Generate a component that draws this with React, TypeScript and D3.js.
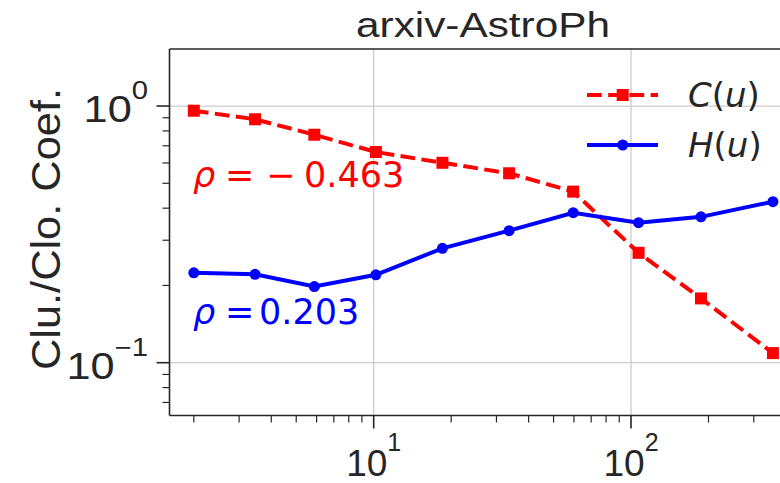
import React from 'react';
import * as d3 from 'd3';

const W = 780;
const H = 483;

// data
const uValues = [2.0, 3.46, 5.88, 10.2, 18.5, 33.6, 59.6, 107, 187, 356];
const cValues = [0.959, 0.888, 0.773, 0.662, 0.601, 0.547, 0.464, 0.268, 0.178, 0.109];
const hValues = [0.224, 0.221, 0.198, 0.220, 0.279, 0.327, 0.384, 0.351, 0.370, 0.424];
const xMajorTicks = [10, 100];
const xTickExponents = ['1', '2'];
const yMajorTicks = [0.1, 1];
const yTickExponents = ['\u22121', '0'];
const seriesNames = ['C', 'H'];
const rhoValues = ['\u22120.463', '0.203'];
const titleText = 'arxiv-AstroPh';
const yLabelText = 'Clu./Clo. Coef.';

const SANS = 'Liberation Sans, Arial, sans-serif';
const MATH = 'DejaVu Sans, sans-serif';
const INK = '#262626';
const GRID = '#cccccc';
const RED = '#ff0000';
const BLUE = '#0000ff';

export default function App() {
  const left = 169.5, right = 797, top = 49, bottom = 415.5;
  const x = d3.scaleLog().domain([1.609, 441.6]).range([left, right]);
  const y = d3.scaleLog().domain([0.06227, 1.668]).range([bottom, top]);

  const isMajor = (t: number) => Math.abs(Math.log10(t) - Math.round(Math.log10(t))) < 1e-6;
  const xMinor = x.ticks().filter((t) => !isMajor(t));
  const yMinor = y.ticks().filter((t) => !isMajor(t));

  const cPts = uValues.map((u, i) => [x(u), y(cValues[i])] as [number, number]);
  const hPts = uValues.map((u, i) => [x(u), y(hValues[i])] as [number, number]);
  const line = d3.line();

  const sq = 12;
  const dash = '14.8 6.4';

  return (
    <svg width={W} height={H} style={{ position: 'fixed', left: 0, top: 0, background: '#fff' }}
      fontFamily={SANS}>
      <defs>
        <clipPath id="plot">
          <rect x={left} y={top} width={right - left} height={bottom - top} />
        </clipPath>
      </defs>
      <rect x={0} y={0} width={W} height={H} fill="#fff" />
      {/* grid */}
      {xMajorTicks.map((t) => (
        <line key={'gx' + t} x1={x(t)} x2={x(t)} y1={top} y2={bottom} stroke={GRID} strokeWidth={1.3} />
      ))}
      {yMajorTicks.map((t) => (
        <line key={'gy' + t} x1={left} x2={right} y1={y(t)} y2={y(t)} stroke={GRID} strokeWidth={1.3} />
      ))}
      {/* spines */}
      <line x1={left} x2={left} y1={top} y2={bottom} stroke={INK} strokeWidth={1.6} />
      <line x1={left} x2={right} y1={bottom} y2={bottom} stroke={INK} strokeWidth={1.6} />
      <line x1={left} x2={right} y1={top} y2={top} stroke={INK} strokeWidth={1.6} />
      <line x1={right} x2={right} y1={top} y2={bottom} stroke={INK} strokeWidth={1.6} />
      {/* x ticks */}
      {xMajorTicks.map((t) => (
        <line key={'xt' + t} x1={x(t)} x2={x(t)} y1={bottom} y2={bottom + 13} stroke={INK} strokeWidth={1.6} />
      ))}
      {xMinor.map((t) => (
        <line key={'xm' + t} x1={x(t)} x2={x(t)} y1={bottom} y2={bottom + 7} stroke={INK} strokeWidth={1.2} />
      ))}
      {xMajorTicks.map((t, i) => (
        <text key={'xl' + t} x={x(t)} y={476} textAnchor="middle" fill={INK} fontSize={37}>
          <tspan>10</tspan>
          <tspan dy={-25} fontSize={25}>{xTickExponents[i]}</tspan>
        </text>
      ))}
      {/* y ticks */}
      {yMajorTicks.map((t) => (
        <line key={'yt' + t} x1={left - 13} x2={left} y1={y(t)} y2={y(t)} stroke={INK} strokeWidth={1.6} />
      ))}
      {yMinor.map((t) => (
        <line key={'ym' + t} x1={left - 7} x2={left} y1={y(t)} y2={y(t)} stroke={INK} strokeWidth={1.2} />
      ))}
      {yMajorTicks.map((t, i) => (
        <text key={'yl' + t} transform={`translate(148,${y(t) + 16}) scale(1.17,1)`} textAnchor="end"
          fill={INK} fontSize={37}>
          <tspan>10</tspan>
          <tspan dy={-23} fontSize={25}>{yTickExponents[i]}</tspan>
        </text>
      ))}
      {/* labels */}
      <text x={483} y={37} textAnchor="middle" fill={INK} fontSize={35}
        textLength={254} lengthAdjust="spacingAndGlyphs">{titleText}</text>
      <text transform={`translate(60,229) rotate(-90)`} textAnchor="middle" fill={INK} fontSize={40}
        textLength={282} lengthAdjust="spacingAndGlyphs">{yLabelText}</text>
      {/* series */}
      <g clipPath="url(#plot)">
        <path d={line(cPts) || ''} fill="none" stroke={RED} strokeWidth={4} strokeDasharray={dash} />
        {cPts.map((p, i) => (
          <rect key={'c' + i} x={p[0] - sq / 2} y={p[1] - sq / 2} width={sq} height={sq} fill={RED} />
        ))}
        <path d={line(hPts) || ''} fill="none" stroke={BLUE} strokeWidth={4} />
        {hPts.map((p, i) => (
          <circle key={'h' + i} cx={p[0]} cy={p[1]} r={5.5} fill={BLUE} />
        ))}
      </g>
      {/* rho annotations */}
      <text y={187} fill={RED} fontSize={35} fontFamily={MATH}>
        <tspan x={193} fontStyle="oblique">ρ</tspan>
        <tspan x={225}>=</tspan>
        <tspan x={266}>{rhoValues[0].charAt(0)}</tspan>
        <tspan x={304}>{rhoValues[0].slice(1)}</tspan>
      </text>
      <text y={324} fill={BLUE} fontSize={35} fontFamily={MATH}>
        <tspan x={193} fontStyle="oblique">ρ</tspan>
        <tspan x={225}>=</tspan>
        <tspan x={259}>{rhoValues[1]}</tspan>
      </text>
      {/* legend */}
      <g fontFamily={MATH}>
        <line x1={587} x2={658} y1={95} y2={95} stroke={RED} strokeWidth={4} strokeDasharray={dash} />
        <rect x={622.7 - sq / 2} y={95 - sq / 2} width={sq} height={sq} fill={RED} />
        <text x={688} y={107} fill={INK} fontSize={34}>
          <tspan fontStyle="oblique">{seriesNames[0]}</tspan>
          <tspan>(</tspan>
          <tspan fontStyle="oblique">u</tspan>
          <tspan>)</tspan>
        </text>
        <line x1={587} x2={658} y1={145} y2={145} stroke={BLUE} strokeWidth={4} />
        <circle cx={622.7} cy={145} r={5.5} fill={BLUE} />
        <text x={688} y={157} fill={INK} fontSize={34}>
          <tspan fontStyle="oblique">{seriesNames[1]}</tspan>
          <tspan>(</tspan>
          <tspan fontStyle="oblique">u</tspan>
          <tspan>)</tspan>
        </text>
      </g>
    </svg>
  );
}
